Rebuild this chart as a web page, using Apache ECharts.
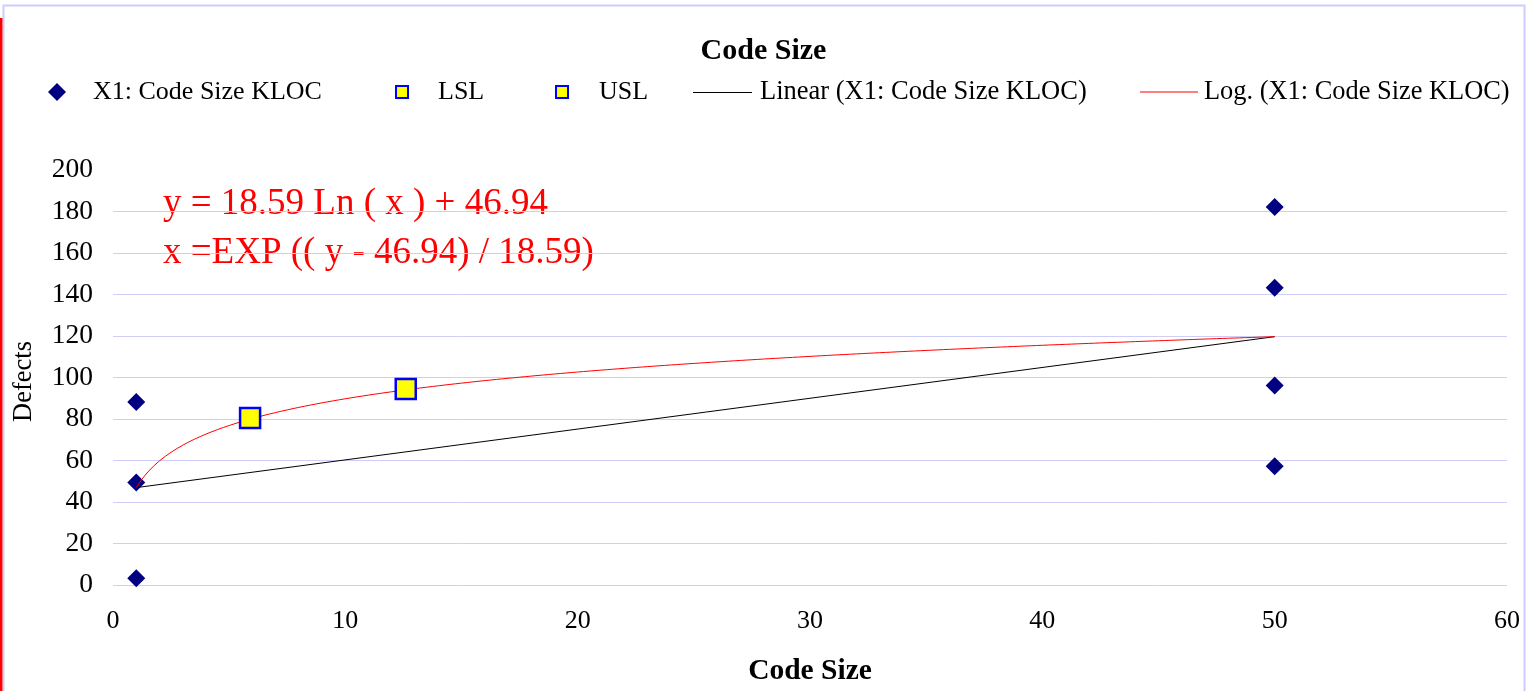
<!DOCTYPE html>
<html><head><meta charset="utf-8">
<script src="https://cdn.jsdelivr.net/npm/echarts@6/dist/echarts.min.js"></script>
<style>html,body{margin:0;padding:0;background:#fff}#c{width:1527px;height:691px}</style>
</head><body><div id="c"></div>
<script>
// ---- data ----
const codeSizeKloc = [1, 1, 1, 50, 50, 50, 50];
const defects = [88.2, 49.4, 3.2, 182.2, 143.2, 96.1, 57.2];
const lslPoint = [5.9, 80.5];
const uslPoint = [12.6, 94.5];
const xAxisTicks = { min: 0, max: 60, interval: 10 };
const yAxisTicks = { min: 0, max: 200, interval: 20 };
const equationLines = ['y = 18.59 Ln ( x ) + 46.94', 'x =EXP (( y - 46.94) / 18.59)'];

// ---- trend lines fitted to the data (least squares) ----
function fit(xs, ys) {
  const n = xs.length;
  const mx = xs.reduce((a, b) => a + b, 0) / n;
  const my = ys.reduce((a, b) => a + b, 0) / n;
  let sxy = 0, sxx = 0;
  for (let i = 0; i < n; i++) { sxy += (xs[i] - mx) * (ys[i] - my); sxx += (xs[i] - mx) ** 2; }
  const slope = sxy / sxx;
  return { slope, intercept: my - slope * mx };
}
const lin = fit(codeSizeKloc, defects);
const lg = fit(codeSizeKloc.map(Math.log), defects);
const xMinData = Math.min(...codeSizeKloc), xMaxData = Math.max(...codeSizeKloc);
const linearTrend = [[xMinData, lin.intercept + lin.slope * xMinData], [xMaxData, lin.intercept + lin.slope * xMaxData]];
const logTrend = [];
for (let x = xMinData; x <= xMaxData + 1e-9; x += 0.25) logTrend.push([x, lg.intercept + lg.slope * Math.log(x)]);

const FONT = "'Liberation Serif', 'Times New Roman', serif";
const scatterData = codeSizeKloc.map((x, i) => [x, defects[i]]);

const chart = echarts.init(document.getElementById('c'), null, { renderer: 'canvas' });
const legendText = (pad, size) => ({ fontFamily: FONT, fontSize: size || 26, color: '#000', padding: [0, 0, 0, pad] });
const legendBase = { top: 79, padding: 0 };
chart.setOption({
  animation: false,
  backgroundColor: '#fff',
  title: {
    text: 'Code Size', left: 'center', top: 31,
    textStyle: { fontFamily: FONT, fontSize: 30, fontWeight: 'bold', color: '#000' }
  },
  legend: [
    Object.assign({ data: ['X1: Code Size KLOC'], left: 48, itemWidth: 18, itemHeight: 18,
      textStyle: legendText(22, 26) }, legendBase),
    Object.assign({ data: ['LSL'], left: 395, itemWidth: 12, itemHeight: 12,
      textStyle: legendText(25, 26) }, legendBase),
    Object.assign({ data: ['USL'], left: 555, itemWidth: 12, itemHeight: 12,
      textStyle: legendText(26, 26) }, legendBase),
    Object.assign({ data: [{ name: 'Linear (X1: Code Size KLOC)', icon: 'rect' }], left: 693, itemWidth: 59, itemHeight: 1,
      textStyle: legendText(3, 26.5) }, legendBase),
    Object.assign({ data: [{ name: 'Log. (X1: Code Size KLOC)', icon: 'rect' }], left: 1140, itemWidth: 58, itemHeight: 1,
      textStyle: legendText(1, 26.4) }, legendBase)
  ],
  grid: { left: 113, right: 20, top: 170, bottom: 105, containLabel: false },
  xAxis: {
    type: 'value', min: xAxisTicks.min, max: xAxisTicks.max, interval: xAxisTicks.interval,
    name: 'Code Size', nameLocation: 'middle', nameGap: 71,
    nameTextStyle: { fontFamily: FONT, fontSize: 29.5, fontWeight: 'bold', color: '#000' },
    axisLine: { show: false }, axisTick: { show: false }, splitLine: { show: false },
    axisLabel: { fontFamily: FONT, fontSize: 26, color: '#000', margin: 23 }
  },
  yAxis: {
    type: 'value', min: yAxisTicks.min, max: yAxisTicks.max, interval: yAxisTicks.interval,
    name: 'Defects', nameLocation: 'middle', nameGap: 75,
    nameTextStyle: { fontFamily: FONT, fontSize: 26.5, color: '#000', padding: [0, 8, 0, 0] },
    axisLine: { show: false }, axisTick: { show: false },
    splitLine: { show: true, showMaxLine: false, lineStyle: { color: '#ceceF8', width: 1 } },
    axisLabel: { fontFamily: FONT, fontSize: 27.5, color: '#000', margin: 20 }
  },
  series: [
    { name: 'X1: Code Size KLOC', type: 'scatter', data: scatterData, symbol: 'diamond', symbolSize: 18,
      itemStyle: { color: '#000080', opacity: 1 }, z: 2 },
    { name: 'Linear (X1: Code Size KLOC)', type: 'line', data: linearTrend, symbol: 'none',
      lineStyle: { color: '#000', width: 1 }, itemStyle: { color: '#000' }, z: 3 },
    { name: 'Log. (X1: Code Size KLOC)', type: 'line', data: logTrend, symbol: 'none',
      lineStyle: { color: '#ff0000', width: 1 }, itemStyle: { color: '#ff0000' }, z: 3 },
    { name: 'LSL', type: 'scatter', data: [lslPoint], symbol: 'rect', symbolSize: 20,
      itemStyle: { color: '#ffff00', borderColor: '#0000ff', borderWidth: 2.5, opacity: 1 }, z: 4 },
    { name: 'USL', type: 'scatter', data: [uslPoint], symbol: 'rect', symbolSize: 20,
      itemStyle: { color: '#ffff00', borderColor: '#0000ff', borderWidth: 2.5, opacity: 1 }, z: 4 }
  ],
  graphic: [
    { type: 'rect', shape: { x: 3.5, y: 5.5, width: 1521, height: 720 }, silent: true,
      style: { fill: 'none', stroke: '#ccccff', lineWidth: 2 }, z: -1 },
    { type: 'line', shape: { x1: 1.2, y1: 18, x2: 1.2, y2: 691 }, silent: true,
      style: { stroke: '#ff0000', lineWidth: 2.5 } },
    { type: 'text', left: 163, top: 186, silent: true,
      style: { text: equationLines[0], font: "37px 'Liberation Serif', serif", fill: '#ff0000' } },
    { type: 'text', left: 163, top: 235, silent: true,
      style: { text: equationLines[1], font: "37px 'Liberation Serif', serif", fill: '#ff0000' } }
  ]
});
</script></body></html>
